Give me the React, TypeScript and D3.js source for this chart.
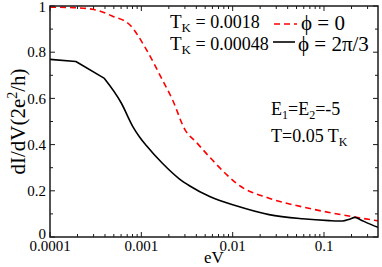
import React from 'react';
import * as d3 from 'd3';

// chart box, in page pixels
const W = 382;
const H = 267;
const M = { left: 50, right: 4, top: 6, bottom: 30 };
const FONT = '"Liberation Serif", "DejaVu Serif", serif';

// phi = 0 (red dashed), T_K = 0.0018
const redEv = [1e-4, 1.8e-4, 3e-4, 4.9e-4, 7.5e-4, 1.14e-3, 1.7e-3, 2.2e-3, 3.0e-3, 4.0e-3, 6.0e-3, 8.7e-3, 1.1e-2, 2.5e-2, 5.7e-2, 0.114, 0.22, 0.39];
const redG = [0.995, 0.993, 0.985, 0.955, 0.918, 0.81, 0.68, 0.593, 0.465, 0.41, 0.333, 0.268, 0.232, 0.168, 0.131, 0.106, 0.086, 0.07];

// phi = 2pi/3 (black solid), T_K = 0.00048
const blackEv = [1e-4, 1.92e-4, 3.9e-4, 6.05e-4, 8.1e-4, 9.6e-4, 1.14e-3, 1.7e-3, 2.6e-3, 3.4e-3, 5.6e-3, 1.09e-2, 2.5e-2, 5.8e-2, 0.114, 0.16, 0.19, 0.218, 0.25, 0.3, 0.39];
const blackG = [0.769, 0.76, 0.688, 0.579, 0.477, 0.432, 0.395, 0.319, 0.252, 0.221, 0.175, 0.135, 0.097, 0.079, 0.071, 0.069, 0.077, 0.085, 0.075, 0.06, 0.042];

const xTickLabels = ['0.0001', '0.001', '0.01', '0.1'];
const yTickLabels = ['0', '0.2', '0.4', '0.6', '0.8', '1'];

const X_MIN = 1e-4;
const X_MAX = 0.39;
// the black curve is coarse at small eV: straight segments up to this index
const BLACK_KNEE = 2;

export default function App() {
  const x = d3.scaleLog().domain([X_MIN, X_MAX]).range([M.left, W - M.right]);
  const y = d3.scaleLinear().domain([0, 1]).range([H - M.bottom, M.top]);
  const [x0, x1] = x.range();
  const [y0, y1] = y.range();

  const pts = (xs: number[], ys: number[]) => ys.map((v, i) => [x(xs[i]), y(v)] as [number, number]);

  const red = d3.line().curve(d3.curveMonotoneX)(pts(redEv, redG));

  const blackPts = pts(blackEv, blackG);
  const blackHead = d3.line()(blackPts.slice(0, BLACK_KNEE + 1));
  const blackTail = d3.line().curve(d3.curveMonotoneX)(blackPts.slice(BLACK_KNEE));

  // log ticks: majors are the decades, minors the 2..9 multiples
  const allX = x.ticks().filter(v => v >= X_MIN && v <= X_MAX);
  const isMajor = (v: number) => Math.abs(Math.log10(v) - Math.round(Math.log10(v))) < 1e-6;
  const yMinor = d3.range(0.1, 1, 0.2);

  const stroke = '#1a1a1a';

  return (
    <div style={{ position: 'absolute', left: 0, top: 0 }}>
      <svg width={W} height={H} viewBox={`0 0 ${W} ${H}`} style={{ display: 'block', background: '#fff' }}>
        {/* curves */}
        <path d={red || ''} fill="none" stroke="#ff0000" strokeWidth={1.6} strokeDasharray="6,4" />
        <path d={blackHead || ''} fill="none" stroke="#000" strokeWidth={1.6} strokeLinejoin="round" />
        <path d={blackTail || ''} fill="none" stroke="#000" strokeWidth={1.6} />

        {/* frame */}
        <rect x={x0} y={y1} width={x1 - x0} height={y0 - y1} fill="none" stroke={stroke} strokeWidth={1.5} />

        {/* x ticks bottom + top */}
        {allX.map((v, i) => {
          const len = isMajor(v) ? 5 : 3;
          return (
            <g key={`xt-${i}`} stroke={stroke} strokeWidth={1}>
              <line x1={x(v)} x2={x(v)} y1={y0} y2={y0 - len} />
              <line x1={x(v)} x2={x(v)} y1={y1} y2={y1 + len} />
            </g>
          );
        })}
        {xTickLabels.map(t => (
          <text key={`xl-${t}`} x={x(+t)} y={y0 + 14} textAnchor="middle" fontFamily={FONT} fontSize={15} fill="#000">{t}</text>
        ))}

        {/* y ticks left + right */}
        {yTickLabels.map(t => (
          <g key={`yt-${t}`} stroke={stroke} strokeWidth={1}>
            <line x1={x0} x2={x0 + 5} y1={y(+t)} y2={y(+t)} />
            <line x1={x1} x2={x1 - 5} y1={y(+t)} y2={y(+t)} />
          </g>
        ))}
        {yMinor.map((v, i) => (
          <g key={`ym-${i}`} stroke={stroke} strokeWidth={1}>
            <line x1={x0} x2={x0 + 3} y1={y(v)} y2={y(v)} />
            <line x1={x1} x2={x1 - 3} y1={y(v)} y2={y(v)} />
          </g>
        ))}
        {yTickLabels.map(t => (
          <text key={`yl-${t}`} x={x0 - 4} y={t === '0' ? y(+t) - 3 : t === '1' ? y(+t) + 1 : y(+t)} dy="0.35em" textAnchor="end" fontFamily={FONT} fontSize={15} fill="#000">{t}</text>
        ))}

        {/* axis titles */}
        <text x={(x0 + x1) / 2} y={H - 4} textAnchor="middle" fontFamily={FONT} fontSize={17} fill="#000">eV</text>
        <text transform={`translate(25,${(y0 + y1) / 2}) rotate(-90)`} textAnchor="middle" fontFamily={FONT} fontSize={21} fill="#000">
          dI/dV(2e<tspan dy={-8} fontSize={14}>2</tspan><tspan dy={8}>/h)</tspan>
        </text>

        {/* legend */}
        <g fontFamily={FONT} fill="#000">
          <text x={170} y={28} fontSize={19}>T<tspan dy={4} fontSize={13}>K</tspan><tspan dy={-4} fontSize={18}> = 0.0018</tspan></text>
          <text x={170} y={50} fontSize={19}>T<tspan dy={4} fontSize={13}>K</tspan><tspan dy={-4} fontSize={18}> = 0.00048</tspan></text>
          <line x1={274} x2={297} y1={24} y2={24} stroke="#ff0000" strokeWidth={1.6} strokeDasharray="6,4" />
          <line x1={273} x2={295} y1={42} y2={42} stroke="#000" strokeWidth={1.6} />
          <text x={301} y={30} fontSize={21}>ϕ = 0</text>
          <text x={298} y={51} fontSize={21}>ϕ = 2π/3</text>
          <text x={271} y={115} fontSize={18}>E<tspan dy={4} fontSize={12}>1</tspan><tspan dy={-4}>=E</tspan><tspan dy={4} fontSize={12}>2</tspan><tspan dy={-4}>=-5</tspan></text>
          <text x={271} y={142} fontSize={18}>T=0.05 T<tspan dy={4} fontSize={12}>K</tspan></text>
        </g>
      </svg>
    </div>
  );
}
